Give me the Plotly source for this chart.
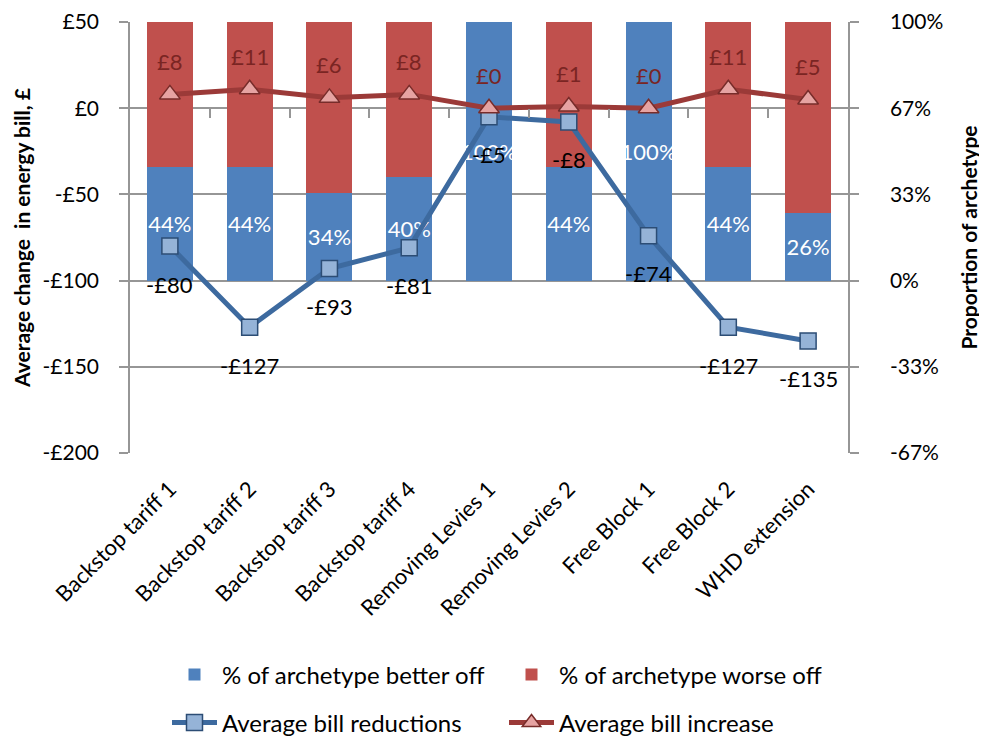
import plotly.graph_objects as go

categories = ["Backstop tariff 1", "Backstop tariff 2", "Backstop tariff 3", "Backstop tariff 4",
              "Removing Levies 1", "Removing Levies 2", "Free Block 1", "Free Block 2", "WHD extension"]
better_off = [44, 44, 34, 40, 100, 44, 100, 44, 26]
worse_off = [56, 56, 66, 60, 0, 56, 0, 56, 74]
bill_reductions = [-80, -127, -93, -81, -5, -8, -74, -127, -135]
bill_increase = [8, 11, 6, 8, 0, 1, 0, 11, 5]

pct_ticks = [-200 / 3, -100 / 3, 0, 100 / 3, 200 / 3, 100]
pct_labels = ["-67%", "-33%", "0%", "33%", "67%", "100%"]
gbp_ticks = [-200, -150, -100, -50, 0, 50]
gbp_labels = ["-£200", "-£150", "-£100", "-£50", "£0", "£50"]

FONT = "Lato"
GRID = "#969696"
# the page body has an 8px default margin, so the figure is drawn 8px in
W, H = 979, 728

fig = go.Figure()
fig.add_trace(go.Bar(
    x=categories, y=better_off, name="% of archetype better off",
    marker=dict(color="#4F81BD", line=dict(width=0)),
    text=[f"{v}%" for v in better_off], textposition="inside", textangle=0,
    insidetextanchor="middle", constraintext="none",
    textfont=dict(color="white", size=22, family=FONT),
    xaxis="x", yaxis="y", hoverinfo="skip", legend="legend"))
fig.add_trace(go.Bar(
    x=categories, y=worse_off, name="% of archetype worse off",
    marker=dict(color="#C0504D", line=dict(width=0)),
    xaxis="x", yaxis="y", hoverinfo="skip", legend="legend"))
fig.add_trace(go.Scatter(
    x=categories, y=bill_reductions, name="Average bill reductions",
    mode="lines+markers", line=dict(color="#3D6A9F", width=5),
    marker=dict(symbol="square", size=16, color="#95B3D7",
                line=dict(color="#2C4D75", width=1.5)),
    xaxis="x", yaxis="y2", legend="legend2"))
fig.add_trace(go.Scatter(
    x=categories, y=bill_increase, name="Average bill increase",
    mode="lines+markers", line=dict(color="#9B3A38", width=5),
    marker=dict(symbol="triangle-up", size=18, color="#E6A3A2",
                line=dict(color="#772C2A", width=1.5)),
    xaxis="x", yaxis="y2", legend="legend2"))
# dummy trace so the tick-mark axis crossing at £0 is drawn
fig.add_trace(go.Scatter(x=[None], y=[None], xaxis="x2", yaxis="y2",
                         showlegend=False, hoverinfo="skip"))

annotations = []
for c, v in zip(categories, bill_reductions):
    annotations.append(dict(x=c, y=v, xref="x", yref="y2", text=f"-£{abs(v)}",
                            showarrow=False, yshift=-38,
                            font=dict(size=22, color="black", family=FONT)))
for c, v in zip(categories, bill_increase):
    annotations.append(dict(x=c, y=v, xref="x", yref="y2", text=f"£{v}",
                            showarrow=False, yshift=33,
                            font=dict(size=22, color="#7A2523", family=FONT)))

n = len(categories)
legend_common = dict(orientation="h", x=159 / W, xanchor="left", xref="container",
                     yanchor="middle", yref="container",
                     entrywidth=277, entrywidthmode="pixels",
                     font=dict(size=24, family=FONT, color="black"),
                     traceorder="normal", itemwidth=45, bgcolor="rgba(0,0,0,0)")
fig.update_layout(
    width=W, height=H,
    margin=dict(l=122, r=139, t=14, b=283, autoexpand=False),
    paper_bgcolor="white", plot_bgcolor="white",
    barmode="stack", bargap=0.424,
    font=dict(family=FONT, size=21, color="black"),
    annotations=annotations,
    xaxis=dict(type="category", range=[-0.5, n - 0.5], showline=False,
               showgrid=False, ticks="", tickangle=-45, automargin=False,
               ticklabelstandoff=18,
               tickfont=dict(size=22, family=FONT)),
    xaxis2=dict(overlaying="x", anchor="free", position=0.8, side="bottom",
                range=[-0.5, n - 0.5], showgrid=False, showline=False,
                zeroline=False, ticks="outside", ticklen=9, tickwidth=1.5,
                tickcolor=GRID, tickvals=[i + 0.5 for i in range(n - 1)],
                showticklabels=False, automargin=False),
    yaxis=dict(side="right", range=[-200 / 3, 100], tickvals=pct_ticks,
               ticktext=pct_labels, showgrid=True, gridcolor=GRID, gridwidth=1.5,
               zeroline=False, showline=True, linecolor=GRID, linewidth=1.5,
               ticks="outside", ticklen=9, tickcolor=GRID, tickwidth=1.5,
               ticklabelstandoff=27, automargin=False,
               tickfont=dict(size=21, family=FONT),
               title=dict(text="<b>Proportion of archetype</b>",
                          font=dict(size=21, family=FONT), standoff=20)),
    yaxis2=dict(side="left", overlaying="y", range=[-200, 50], tickvals=gbp_ticks,
                ticktext=gbp_labels, showgrid=False, zeroline=False,
                showline=True, linecolor=GRID, linewidth=1.5,
                ticks="outside", ticklen=9, tickcolor=GRID, tickwidth=1.5,
                ticklabelstandoff=16, automargin=False,
                tickfont=dict(size=21, family=FONT),
                title=dict(text="<b>Average change  in energy bill, £</b>",
                           font=dict(size=21, family=FONT), standoff=6)),
    legend=dict(legend_common, y=1 - 667 / H),
    legend2=dict(legend_common, y=1 - 715 / H),
    showlegend=True,
)

fig.write_html("out.html")
